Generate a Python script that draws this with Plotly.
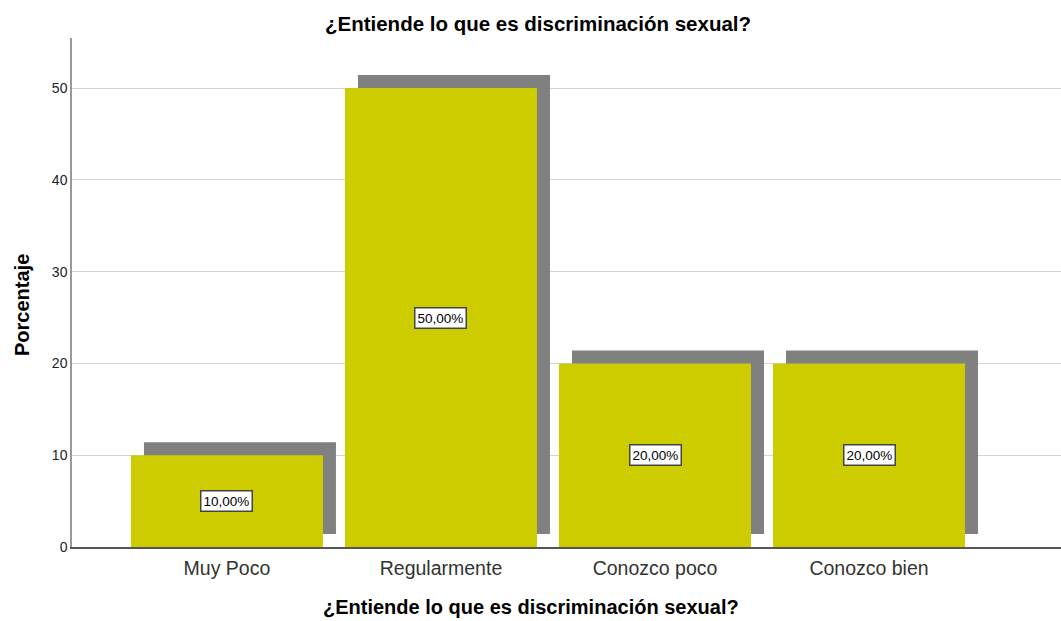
import plotly.graph_objects as go

categories = ["Muy Poco", "Regularmente", "Conozco poco", "Conozco bien"]
percentages = [10.0, 50.0, 20.0, 20.0]
labels = ["10,00%", "50,00%", "20,00%", "20,00%"]
y_ticks = [0, 10, 20, 30, 40, 50]
title_text = "¿Entiende lo que es discriminación sexual?"

W, H = 1061, 621
ml, mr, mt, mb = 72, 0, 38, 74
x_range = [-0.724, 3.897]
y_range = [0, 55.45]
plot_w = W - ml - mr
plot_h = H - mt - mb
px_x = plot_w / (x_range[1] - x_range[0])
px_y = plot_h / (y_range[1] - y_range[0])
off_px = 13
dx = off_px / px_x
dy = off_px / px_y
bar_w = 192 / px_x

xs = list(range(len(categories)))
FONT = "Liberation Sans, Arial"

fig = go.Figure()
fig.add_trace(go.Bar(
    x=[x + dx for x in xs], y=percentages, base=[dy] * len(xs),
    width=bar_w, marker=dict(color="#808080", line=dict(width=0)),
    hoverinfo="skip", showlegend=False,
))
fig.add_trace(go.Bar(
    x=xs, y=percentages, width=bar_w,
    marker=dict(color="#CCCC00", line=dict(width=0)),
    showlegend=False,
))

for x, v, t in zip(xs, percentages, labels):
    fig.add_annotation(
        x=x, y=v / 2, text=t, showarrow=False,
        font=dict(family=FONT, size=13.5, color="#000"),
        bgcolor="white", bordercolor="#444444", borderwidth=1.5, borderpad=2,
    )

# axis titles
fig.add_annotation(
    xref="paper", yref="paper", x=(W / 2 - ml) / plot_w,
    y=(mt + plot_h - 607) / plot_h, xanchor="center", yanchor="middle",
    text="<b>" + title_text + "</b>", showarrow=False,
    font=dict(family=FONT, size=20, color="#000"),
)
fig.add_annotation(
    xref="paper", yref="paper", x=(22 - ml) / plot_w,
    y=(mt + plot_h - 305) / plot_h, xanchor="center", yanchor="middle",
    text="<b>Porcentaje</b>", textangle=-90, showarrow=False,
    font=dict(family=FONT, size=20, color="#000"),
)

fig.update_layout(
    width=W, height=H,
    margin=dict(l=ml, r=mr, t=mt, b=mb, autoexpand=False),
    barmode="overlay",
    plot_bgcolor="white", paper_bgcolor="white",
    font=dict(family=FONT, color="#000"),
    title=dict(text="<b>" + title_text + "</b>",
               x=538 / W, xanchor="center", y=1 - 24 / H, yanchor="middle",
               font=dict(size=20.5, color="#000")),
    xaxis=dict(
        range=x_range, tickmode="array", tickvals=xs, ticktext=categories,
        showgrid=False, zeroline=False, showline=True, automargin=False,
        linecolor="#555555", linewidth=1.5, ticks="", ticklabelstandoff=3,
        tickfont=dict(size=19.5, color="#333"),
    ),
    yaxis=dict(
        range=y_range, tickmode="array", tickvals=y_ticks,
        showgrid=True, gridcolor="#d4d4d4", gridwidth=1.2, automargin=False,
        zeroline=False, showline=True, linecolor="#999999", linewidth=1.5,
        ticks="", tickfont=dict(size=14, color="#222"),
    ),
)

fig.write_html("out.html", config={"displayModeBar": False})
with open("out.html", "r", encoding="utf-8") as f:
    html = f.read()
html = html.replace("<head>", "<head><style>html,body{margin:0;padding:0;overflow:hidden;}</style>", 1)
with open("out.html", "w", encoding="utf-8") as f:
    f.write(html)
